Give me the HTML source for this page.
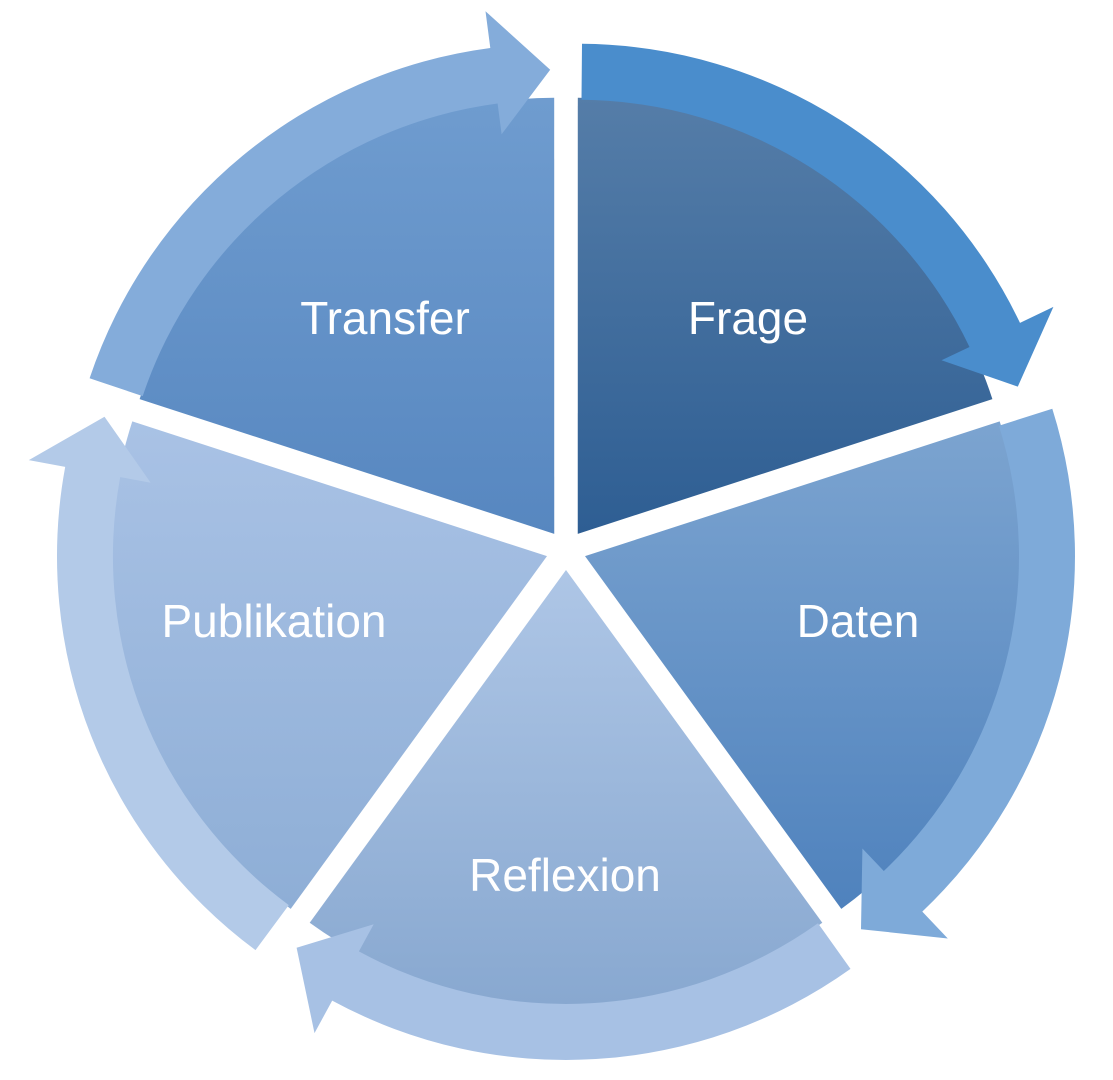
<!DOCTYPE html>
<html><head><meta charset="utf-8"><style>
html,body{margin:0;padding:0;background:#fff;width:1113px;height:1080px;overflow:hidden}
svg{display:block}
text{font-family:"Liberation Sans",sans-serif;font-size:46px;fill:#fff;text-anchor:middle}
</style></head><body>
<svg id="s" width="1113" height="1080" viewBox="0 0 1113 1080">
<defs>
<linearGradient id="g0" x1="0" y1="0" x2="0" y2="1"><stop offset="0" stop-color="#557da8"/><stop offset="1" stop-color="#2e5e93"/></linearGradient>
<linearGradient id="g1" x1="0" y1="0" x2="0" y2="1"><stop offset="0" stop-color="#7ca4d0"/><stop offset="1" stop-color="#4f82bd"/></linearGradient>
<linearGradient id="g2" x1="0" y1="0" x2="0" y2="1"><stop offset="0" stop-color="#aec6e6"/><stop offset="1" stop-color="#88a8d0"/></linearGradient>
<linearGradient id="g3" x1="0" y1="0" x2="0" y2="1"><stop offset="0" stop-color="#a9c2e5"/><stop offset="1" stop-color="#8eaed6"/></linearGradient>
<linearGradient id="g4" x1="0" y1="0" x2="0" y2="1"><stop offset="0" stop-color="#6f9ccf"/><stop offset="1" stop-color="#5787c0"/></linearGradient>
</defs>
<g id="w"></g>
<text x="748" y="334">Frage</text>
<text x="858" y="637">Daten</text>
<text x="565" y="891">Reflexion</text>
<text x="274" y="637">Publikation</text>
<text x="385" y="334">Transfer</text>
</svg>
<script>
var cx=566,cy=550,g=document.getElementById('w');
var arrowCol=['#4a8dcc','#7eaad9','#a7c1e4','#b3cae8','#84acda'];
function P(c,r,a){a=a*Math.PI/180;return [(c[0]+r*Math.sin(a)).toFixed(1),(c[1]-r*Math.cos(a)).toFixed(1)].join(',');}
var h='';
for(var i=0;i<5;i++){
 var a0=i*72,a1=a0+72,m=a0+36;
 var c=[cx+20*Math.sin(m*Math.PI/180),cy-20*Math.cos(m*Math.PI/180)];
 var R=436;
 h+='<path d="M'+c.join(',')+' L'+P(c,R,a0)+' A'+R+','+R+' 0 0 1 '+P(c,R,a1)+' Z" fill="url(#g'+i+')"/>';
 var s=a0+0.5,e=a1-0.5,d=7,r1=434,r2=490;
 h+='<path d="M'+P(c,r2,s)+' A'+r2+','+r2+' 0 0 1 '+P(c,r2,e-d)+' L'+P(c,527,e-d)+' L'+P(c,464,e)+' L'+P(c,403,e-d)+' L'+P(c,r1,e-d)+' A'+r1+','+r1+' 0 0 0 '+P(c,r1,s)+' Z" fill="'+arrowCol[i]+'"/>';
}
g.innerHTML=h;
</script>
</body></html>
